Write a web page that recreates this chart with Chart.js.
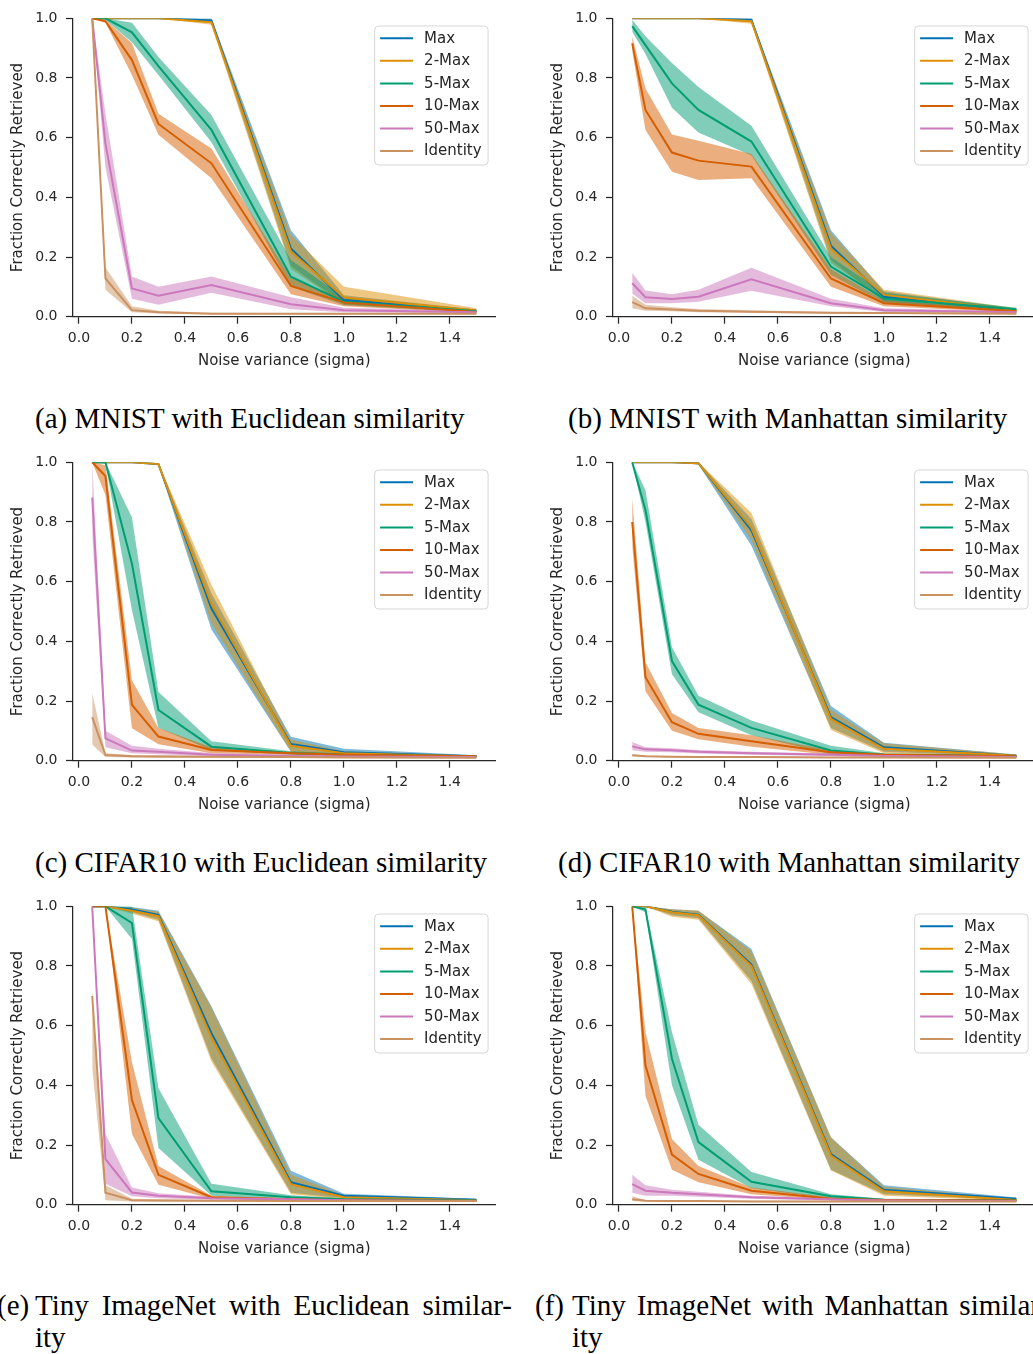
<!DOCTYPE html>
<html><head><meta charset="utf-8">
<script src="https://cdn.jsdelivr.net/npm/chart.js@4/dist/chart.umd.min.js"></script>
<style>
html,body{margin:0;padding:0;background:#fff;width:1033px;height:1354px;overflow:hidden;position:relative}
.pane{position:absolute;width:500px;height:380px}
.cap{position:absolute;font-family:"Liberation Serif",serif;font-size:29px;line-height:32px;white-space:nowrap;color:#000}
.just{white-space:normal;text-align:justify;text-align-last:justify}
</style></head><body>
<div class="pane" style="left:0px;top:0px"><canvas id="ca" width="500" height="380"></canvas></div>
<div class="pane" style="left:540px;top:0px"><canvas id="cb" width="500" height="380"></canvas></div>
<div class="pane" style="left:0px;top:444px"><canvas id="cc" width="500" height="380"></canvas></div>
<div class="pane" style="left:540px;top:444px"><canvas id="cd" width="500" height="380"></canvas></div>
<div class="pane" style="left:0px;top:887.5px"><canvas id="ce" width="500" height="380"></canvas></div>
<div class="pane" style="left:540px;top:887.5px"><canvas id="cf" width="500" height="380"></canvas></div>

<div class="cap" style="left:35px;top:402px">(a) MNIST with Euclidean similarity</div>
<div class="cap" style="left:568px;top:402px">(b) MNIST with Manhattan similarity</div>
<div class="cap" style="left:35px;top:846px">(c) CIFAR10 with Euclidean similarity</div>
<div class="cap" style="left:558px;top:846px">(d) CIFAR10 with Manhattan similarity</div>
<div class="cap" style="left:-3px;top:1289px">(e)</div>
<div class="cap just" style="left:35px;top:1289px;width:477px">Tiny ImageNet with Euclidean similar-</div>
<div class="cap" style="left:35px;top:1321px">ity</div>
<div class="cap" style="left:535px;top:1289px">(f)</div>
<div class="cap just" style="left:572px;top:1289px;width:477px">Tiny ImageNet with Manhattan similar-</div>
<div class="cap" style="left:572px;top:1321px">ity</div>

<script>
// ---------- shared data ----------
const X = [0.05, 0.1, 0.2, 0.3, 0.5, 0.8, 1.0, 1.5];
const X_TICKS = [0.0, 0.2, 0.4, 0.6, 0.8, 1.0, 1.2, 1.4];
const Y_TICKS = [0.0, 0.2, 0.4, 0.6, 0.8, 1.0];
const SERIES = ['Max', '2-Max', '5-Max', '10-Max', '50-Max', 'Identity'];
const COLORS = ['#0173B2', '#DE8F05', '#029E73', '#D55E00', '#CC78BC', '#CA9161'];
const X_TITLE = 'Noise variance (sigma)';
const Y_TITLE = 'Fraction Correctly Retrieved';

// ---------- (a) MNIST, Euclidean ----------
const A_MAX     = [1.0, 1.0, 1.0, 1.0, 0.993, 0.229, 0.056, 0.019];
const A_MAX_LO  = [1.0, 1.0, 1.0, 1.0, 0.985, 0.17, 0.042, 0.015];
const A_MAX_HI  = [1.0, 1.0, 1.0, 1.0, 1.0, 0.29, 0.072, 0.024];
const A_2MAX    = [1.0, 1.0, 1.0, 1.0, 0.987, 0.218, 0.064, 0.021];
const A_2MAX_LO = [1.0, 1.0, 1.0, 1.0, 0.978, 0.16, 0.042, 0.015];
const A_2MAX_HI = [1.0, 1.0, 1.0, 1.0, 0.995, 0.275, 0.1, 0.028];
const A_5MAX    = [1.0, 1.0, 0.953, 0.84, 0.626, 0.134, 0.05, 0.018];
const A_5MAX_LO = [1.0, 0.995, 0.92, 0.81, 0.585, 0.1, 0.038, 0.014];
const A_5MAX_HI = [1.0, 1.0, 0.985, 0.87, 0.676, 0.19, 0.065, 0.024];
const A_10MAX    = [1.0, 0.99, 0.86, 0.646, 0.514, 0.103, 0.048, 0.016];
const A_10MAX_LO = [1.0, 0.985, 0.81, 0.61, 0.464, 0.075, 0.035, 0.012];
const A_10MAX_HI = [1.0, 0.995, 0.916, 0.68, 0.564, 0.13, 0.06, 0.02];
const A_50MAX    = [1.0, 0.58, 0.095, 0.07, 0.106, 0.042, 0.022, 0.015];
const A_50MAX_LO = [1.0, 0.5, 0.06, 0.04, 0.08, 0.025, 0.015, 0.011];
const A_50MAX_HI = [1.0, 0.68, 0.135, 0.1, 0.135, 0.065, 0.03, 0.019];
const A_ID    = [1.0, 0.128, 0.022, 0.015, 0.01, 0.01, 0.01, 0.01];
const A_ID_LO = [1.0, 0.09, 0.015, 0.011, 0.008, 0.008, 0.008, 0.008];
const A_ID_HI = [1.0, 0.165, 0.035, 0.02, 0.013, 0.012, 0.012, 0.012];

// ---------- (b) MNIST, Manhattan ----------
const B_MAX     = [1.0, 1.0, 1.0, 1.0, 0.995, 0.238, 0.067, 0.022];
const B_MAX_LO  = [1.0, 1.0, 1.0, 1.0, 0.988, 0.19, 0.05, 0.017];
const B_MAX_HI  = [1.0, 1.0, 1.0, 1.0, 1.0, 0.29, 0.085, 0.027];
const B_2MAX    = [1.0, 1.0, 1.0, 1.0, 0.99, 0.228, 0.073, 0.022];
const B_2MAX_LO = [1.0, 1.0, 1.0, 1.0, 0.982, 0.18, 0.055, 0.017];
const B_2MAX_HI = [1.0, 1.0, 1.0, 1.0, 0.997, 0.28, 0.09, 0.028];
const B_5MAX    = [0.974, 0.91, 0.782, 0.693, 0.587, 0.168, 0.061, 0.025];
const B_5MAX_LO = [0.955, 0.88, 0.70, 0.617, 0.54, 0.14, 0.045, 0.02];
const B_5MAX_HI = [0.995, 0.94, 0.85, 0.77, 0.64, 0.2, 0.08, 0.03];
const B_10MAX    = [0.916, 0.693, 0.55, 0.523, 0.503, 0.128, 0.045, 0.018];
const B_10MAX_LO = [0.89, 0.626, 0.486, 0.458, 0.464, 0.10, 0.035, 0.014];
const B_10MAX_HI = [0.94, 0.765, 0.611, 0.59, 0.545, 0.16, 0.055, 0.022];
const B_50MAX    = [0.112, 0.065, 0.059, 0.067, 0.125, 0.045, 0.022, 0.015];
const B_50MAX_LO = [0.078, 0.045, 0.045, 0.05, 0.087, 0.035, 0.016, 0.012];
const B_50MAX_HI = [0.147, 0.088, 0.075, 0.09, 0.164, 0.06, 0.028, 0.018];
const B_ID    = [0.049, 0.028, 0.024, 0.02, 0.017, 0.013, 0.012, 0.01];
const B_ID_LO = [0.028, 0.02, 0.018, 0.015, 0.013, 0.01, 0.009, 0.008];
const B_ID_HI = [0.07, 0.04, 0.032, 0.026, 0.022, 0.016, 0.015, 0.013];

// ---------- (c) CIFAR10, Euclidean ----------
const C_MAX     = [1.0, 1.0, 1.0, 0.994, 0.51, 0.056, 0.028, 0.015];
const C_MAX_LO  = [1.0, 1.0, 1.0, 0.99, 0.44, 0.03, 0.02, 0.012];
const C_MAX_HI  = [1.0, 1.0, 1.0, 0.998, 0.56, 0.08, 0.04, 0.018];
const C_2MAX    = [1.0, 1.0, 1.0, 0.994, 0.525, 0.05, 0.025, 0.014];
const C_2MAX_LO = [1.0, 1.0, 1.0, 0.99, 0.46, 0.03, 0.018, 0.011];
const C_2MAX_HI = [1.0, 1.0, 1.0, 0.998, 0.59, 0.07, 0.032, 0.017];
const C_5MAX    = [1.0, 1.0, 0.66, 0.17, 0.047, 0.026, 0.02, 0.015];
const C_5MAX_LO = [1.0, 0.995, 0.504, 0.11, 0.035, 0.02, 0.016, 0.012];
const C_5MAX_HI = [1.0, 1.0, 0.815, 0.23, 0.065, 0.032, 0.024, 0.018];
const C_10MAX    = [1.0, 0.954, 0.187, 0.081, 0.036, 0.025, 0.02, 0.015];
const C_10MAX_LO = [1.0, 0.89, 0.109, 0.055, 0.025, 0.02, 0.016, 0.012];
const C_10MAX_HI = [1.0, 0.99, 0.27, 0.11, 0.045, 0.03, 0.024, 0.018];
const C_50MAX    = [0.882, 0.075, 0.034, 0.03, 0.02, 0.016, 0.014, 0.012];
const C_50MAX_LO = [0.76, 0.045, 0.025, 0.022, 0.015, 0.012, 0.011, 0.01];
const C_50MAX_HI = [1.0, 0.1, 0.05, 0.04, 0.026, 0.02, 0.017, 0.014];
const C_ID    = [0.146, 0.019, 0.015, 0.014, 0.013, 0.012, 0.011, 0.01];
const C_ID_LO = [0.054, 0.012, 0.011, 0.01, 0.01, 0.009, 0.009, 0.008];
const C_ID_HI = [0.227, 0.025, 0.019, 0.018, 0.016, 0.015, 0.014, 0.012];

// ---------- (d) CIFAR10, Manhattan ----------
const D_MAX     = [1.0, 1.0, 1.0, 0.997, 0.772, 0.146, 0.045, 0.017];
const D_MAX_LO  = [1.0, 1.0, 1.0, 0.993, 0.72, 0.11, 0.03, 0.013];
const D_MAX_HI  = [1.0, 1.0, 1.0, 1.0, 0.81, 0.183, 0.06, 0.021];
const D_2MAX    = [1.0, 1.0, 1.0, 0.997, 0.78, 0.14, 0.04, 0.017];
const D_2MAX_LO = [1.0, 1.0, 1.0, 0.993, 0.74, 0.103, 0.025, 0.013];
const D_2MAX_HI = [1.0, 1.0, 1.0, 1.0, 0.83, 0.17, 0.058, 0.021];
const D_5MAX    = [1.0, 0.84, 0.334, 0.188, 0.11, 0.034, 0.02, 0.015];
const D_5MAX_LO = [1.0, 0.80, 0.29, 0.162, 0.085, 0.022, 0.016, 0.012];
const D_5MAX_HI = [1.0, 0.907, 0.38, 0.218, 0.135, 0.05, 0.025, 0.018];
const D_10MAX    = [0.80, 0.28, 0.129, 0.09, 0.065, 0.028, 0.02, 0.015];
const D_10MAX_LO = [0.72, 0.233, 0.10, 0.072, 0.047, 0.02, 0.016, 0.012];
const D_10MAX_HI = [0.88, 0.33, 0.16, 0.11, 0.085, 0.035, 0.024, 0.018];
const D_50MAX    = [0.048, 0.038, 0.035, 0.03, 0.025, 0.02, 0.016, 0.012];
const D_50MAX_LO = [0.035, 0.03, 0.028, 0.024, 0.02, 0.016, 0.013, 0.01];
const D_50MAX_HI = [0.063, 0.045, 0.042, 0.036, 0.03, 0.024, 0.019, 0.014];
const D_ID    = [0.018, 0.015, 0.013, 0.012, 0.012, 0.011, 0.011, 0.01];
const D_ID_LO = [0.015, 0.013, 0.011, 0.01, 0.01, 0.009, 0.009, 0.008];
const D_ID_HI = [0.022, 0.017, 0.015, 0.014, 0.014, 0.013, 0.013, 0.012];

// ---------- (e) Tiny ImageNet, Euclidean ----------
const E_MAX     = [1.0, 1.0, 0.989, 0.971, 0.575, 0.075, 0.03, 0.017];
const E_MAX_LO  = [1.0, 1.0, 0.98, 0.955, 0.49, 0.04, 0.022, 0.014];
const E_MAX_HI  = [1.0, 1.0, 0.998, 0.985, 0.665, 0.114, 0.037, 0.02];
const E_2MAX    = [1.0, 1.0, 0.985, 0.967, 0.56, 0.069, 0.025, 0.015];
const E_2MAX_LO = [1.0, 1.0, 0.975, 0.95, 0.48, 0.035, 0.018, 0.012];
const E_2MAX_HI = [1.0, 1.0, 0.995, 0.982, 0.66, 0.1, 0.032, 0.018];
const E_5MAX    = [1.0, 1.0, 0.944, 0.29, 0.045, 0.025, 0.018, 0.015];
const E_5MAX_LO = [1.0, 1.0, 0.89, 0.19, 0.03, 0.018, 0.014, 0.012];
const E_5MAX_HI = [1.0, 1.0, 1.0, 0.39, 0.07, 0.032, 0.022, 0.018];
const E_10MAX    = [1.0, 1.0, 0.351, 0.1, 0.025, 0.018, 0.015, 0.013];
const E_10MAX_LO = [1.0, 1.0, 0.237, 0.067, 0.02, 0.014, 0.012, 0.011];
const E_10MAX_HI = [1.0, 1.0, 0.477, 0.13, 0.03, 0.022, 0.018, 0.015];
const E_50MAX    = [1.0, 0.153, 0.041, 0.03, 0.022, 0.018, 0.015, 0.012];
const E_50MAX_LO = [1.0, 0.07, 0.028, 0.022, 0.017, 0.014, 0.012, 0.01];
const E_50MAX_HI = [1.0, 0.237, 0.058, 0.038, 0.027, 0.022, 0.018, 0.014];
const E_ID    = [0.70, 0.04, 0.015, 0.014, 0.013, 0.012, 0.012, 0.012];
const E_ID_LO = [0.46, 0.015, 0.011, 0.01, 0.01, 0.01, 0.01, 0.01];
const E_ID_HI = [0.72, 0.065, 0.02, 0.018, 0.016, 0.015, 0.014, 0.014];

// ---------- (f) Tiny ImageNet, Manhattan ----------
const F_MAX     = [1.0, 1.0, 0.982, 0.972, 0.805, 0.17, 0.05, 0.02];
const F_MAX_LO  = [1.0, 1.0, 0.97, 0.96, 0.75, 0.117, 0.035, 0.016];
const F_MAX_HI  = [1.0, 1.0, 0.99, 0.985, 0.857, 0.226, 0.065, 0.024];
const F_2MAX    = [1.0, 1.0, 0.98, 0.97, 0.80, 0.165, 0.045, 0.016];
const F_2MAX_LO = [1.0, 1.0, 0.965, 0.955, 0.74, 0.115, 0.03, 0.012];
const F_2MAX_HI = [1.0, 1.0, 0.99, 0.985, 0.85, 0.225, 0.06, 0.02];
const F_5MAX    = [1.0, 0.989, 0.489, 0.21, 0.077, 0.028, 0.017, 0.015];
const F_5MAX_LO = [1.0, 0.98, 0.40, 0.151, 0.055, 0.02, 0.014, 0.012];
const F_5MAX_HI = [1.0, 1.0, 0.578, 0.268, 0.11, 0.035, 0.02, 0.018];
const F_10MAX    = [1.0, 0.466, 0.168, 0.103, 0.047, 0.02, 0.016, 0.014];
const F_10MAX_LO = [1.0, 0.365, 0.117, 0.075, 0.035, 0.016, 0.013, 0.011];
const F_10MAX_HI = [1.0, 0.578, 0.22, 0.13, 0.058, 0.025, 0.019, 0.017];
const F_50MAX    = [0.069, 0.047, 0.04, 0.035, 0.025, 0.018, 0.014, 0.012];
const F_50MAX_LO = [0.04, 0.03, 0.03, 0.027, 0.02, 0.014, 0.012, 0.01];
const F_50MAX_HI = [0.1, 0.065, 0.05, 0.043, 0.03, 0.022, 0.017, 0.014];
const F_ID    = [0.018, 0.013, 0.012, 0.012, 0.011, 0.011, 0.011, 0.011];
const F_ID_LO = [0.012, 0.01, 0.01, 0.01, 0.009, 0.009, 0.009, 0.009];
const F_ID_HI = [0.028, 0.016, 0.015, 0.014, 0.013, 0.013, 0.013, 0.013];

// ---------- rendering ----------
const AX = '#262626';
Chart.defaults.font.family = '"DejaVu Sans", sans-serif';
Chart.defaults.color = AX;
Chart.defaults.animation = false;

function rgba(hex, a) {
  const n = parseInt(hex.slice(1), 16);
  return `rgba(${(n >> 16) & 255},${(n >> 8) & 255},${n & 255},${a})`;
}
function pts(arr) { return X.map((x, j) => ({ x: x, y: arr[j] })); }

const boxLegend = {
  id: 'boxLegend',
  afterDatasetsDraw(chart) {
    const ctx = chart.ctx, a = chart.chartArea;
    ctx.save();
    ctx.font = '15px "DejaVu Sans"';
    const tw = Math.max(...SERIES.map(s => ctx.measureText(s).width));
    const w = 49.5 + tw + 6.5, h = 139;
    const x0 = a.right - 7.5 - w, y0 = a.top + 7.7, r = 4;
    ctx.beginPath();
    ctx.moveTo(x0 + r, y0);
    ctx.arcTo(x0 + w, y0, x0 + w, y0 + h, r);
    ctx.arcTo(x0 + w, y0 + h, x0, y0 + h, r);
    ctx.arcTo(x0, y0 + h, x0, y0, r);
    ctx.arcTo(x0, y0, x0 + w, y0, r);
    ctx.closePath();
    ctx.fillStyle = 'rgba(255,255,255,0.8)';
    ctx.fill();
    ctx.strokeStyle = 'rgba(204,204,204,0.8)';
    ctx.lineWidth = 1;
    ctx.stroke();
    SERIES.forEach((s, i) => {
      const y = y0 + 12.3 + i * 22.55;
      ctx.beginPath();
      ctx.moveTo(x0 + 5.5, y); ctx.lineTo(x0 + 38.5, y);
      ctx.strokeStyle = COLORS[i]; ctx.lineWidth = 2; ctx.stroke();
      ctx.fillStyle = AX; ctx.textBaseline = 'middle'; ctx.textAlign = 'left';
      ctx.fillText(s, x0 + 49.5, y + 0.5);
    });
    ctx.restore();
  }
};

function makeChart(id, means, los, his) {
  const datasets = [];
  SERIES.forEach((name, i) => {
    const ord = SERIES.length - i;
    datasets.push({ label: name + ' upper', data: pts(his[i]), borderColor: 'rgba(0,0,0,0)', borderWidth: 0,
      pointRadius: 0, fill: false, order: ord });
    datasets.push({ label: name + ' lower', data: pts(los[i]), borderColor: 'rgba(0,0,0,0)', borderWidth: 0,
      pointRadius: 0, fill: '-1', backgroundColor: rgba(COLORS[i], 0.5), order: ord });
    datasets.push({ label: name, data: pts(means[i]), borderColor: COLORS[i], borderWidth: 2,
      pointRadius: 0, fill: false, order: ord });
  });
  new Chart(document.getElementById(id), {
    type: 'line',
    data: { datasets },
    plugins: [boxLegend],
    options: {
      responsive: false,
      animation: false,
      events: [],
      layout: { padding: { top: 18.3, right: 4.4, left: 0, bottom: 0 } },
      plugins: { legend: { display: false }, tooltip: { enabled: false }, filler: { drawTime: 'beforeDatasetsDraw' } },
      scales: {
        x: {
          type: 'linear', min: -0.0225, max: 1.5725,
          afterBuildTicks: s => { s.ticks = X_TICKS.map(v => ({ value: v })); },
          afterFit: s => { s.height = 63.3; },
          grid: { drawOnChartArea: false, drawTicks: true, tickLength: 7, tickColor: AX, tickWidth: 1.25 },
          border: { display: true, color: AX, width: 1.25 },
          ticks: { color: AX, font: { size: 14 }, padding: 6, maxRotation: 0, autoSkip: false,
            callback: v => Number(v).toFixed(1) },
          title: { display: true, text: X_TITLE, color: AX, font: { size: 15 }, padding: { top: 0, bottom: 10 } }
        },
        y: {
          type: 'linear', min: 0, max: 1,
          afterBuildTicks: s => { s.ticks = Y_TICKS.map(v => ({ value: v })); },
          afterFit: s => { s.width = 73; },
          grid: { drawOnChartArea: false, drawTicks: true, tickLength: 7, tickColor: AX, tickWidth: 1.25 },
          border: { display: true, color: AX, width: 1.25 },
          ticks: { color: AX, font: { size: 14 }, padding: 8.5, autoSkip: false,
            callback: v => Number(v).toFixed(1) },
          title: { display: true, text: Y_TITLE, color: AX, font: { size: 15 }, padding: { top: 9, bottom: 0 } }
        }
      }
    }
  });
}

makeChart('ca', [A_MAX, A_2MAX, A_5MAX, A_10MAX, A_50MAX, A_ID],
  [A_MAX_LO, A_2MAX_LO, A_5MAX_LO, A_10MAX_LO, A_50MAX_LO, A_ID_LO],
  [A_MAX_HI, A_2MAX_HI, A_5MAX_HI, A_10MAX_HI, A_50MAX_HI, A_ID_HI]);
makeChart('cb', [B_MAX, B_2MAX, B_5MAX, B_10MAX, B_50MAX, B_ID],
  [B_MAX_LO, B_2MAX_LO, B_5MAX_LO, B_10MAX_LO, B_50MAX_LO, B_ID_LO],
  [B_MAX_HI, B_2MAX_HI, B_5MAX_HI, B_10MAX_HI, B_50MAX_HI, B_ID_HI]);
makeChart('cc', [C_MAX, C_2MAX, C_5MAX, C_10MAX, C_50MAX, C_ID],
  [C_MAX_LO, C_2MAX_LO, C_5MAX_LO, C_10MAX_LO, C_50MAX_LO, C_ID_LO],
  [C_MAX_HI, C_2MAX_HI, C_5MAX_HI, C_10MAX_HI, C_50MAX_HI, C_ID_HI]);
makeChart('cd', [D_MAX, D_2MAX, D_5MAX, D_10MAX, D_50MAX, D_ID],
  [D_MAX_LO, D_2MAX_LO, D_5MAX_LO, D_10MAX_LO, D_50MAX_LO, D_ID_LO],
  [D_MAX_HI, D_2MAX_HI, D_5MAX_HI, D_10MAX_HI, D_50MAX_HI, D_ID_HI]);
makeChart('ce', [E_MAX, E_2MAX, E_5MAX, E_10MAX, E_50MAX, E_ID],
  [E_MAX_LO, E_2MAX_LO, E_5MAX_LO, E_10MAX_LO, E_50MAX_LO, E_ID_LO],
  [E_MAX_HI, E_2MAX_HI, E_5MAX_HI, E_10MAX_HI, E_50MAX_HI, E_ID_HI]);
makeChart('cf', [F_MAX, F_2MAX, F_5MAX, F_10MAX, F_50MAX, F_ID],
  [F_MAX_LO, F_2MAX_LO, F_5MAX_LO, F_10MAX_LO, F_50MAX_LO, F_ID_LO],
  [F_MAX_HI, F_2MAX_HI, F_5MAX_HI, F_10MAX_HI, F_50MAX_HI, F_ID_HI]);
</script>
</body></html>
